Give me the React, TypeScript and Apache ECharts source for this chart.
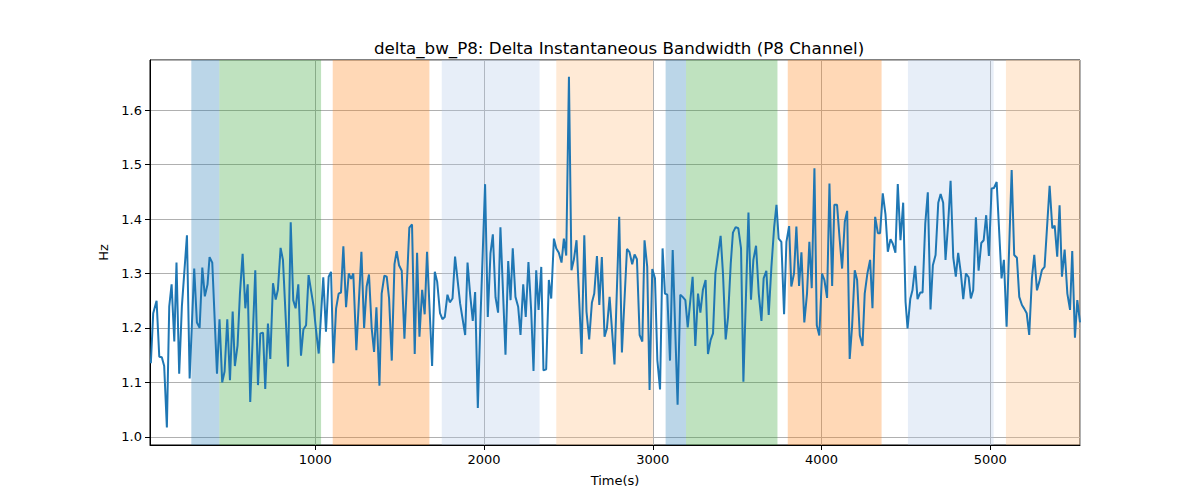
import React, { useEffect, useRef } from "react";
import * as echarts from "echarts";

const titleText = "delta_bw_P8: Delta Instantaneous Bandwidth (P8 Channel)";
const xAxisName = "Time(s)";
const yAxisName = "Hz";

const times: number[] = [
  25, 39, 59, 75, 90, 104, 120, 134, 148, 164, 177, 193, 209, 239, 255, 282, 298, 314, 330, 345,
  361, 373, 389, 417, 432, 448, 462, 478, 494, 510, 523, 539, 553, 569, 585, 599, 614, 644, 660, 674,
  690, 703, 719, 733, 749, 765, 778, 794, 808, 838, 854, 869, 883, 899, 915, 929, 945, 960, 974, 990,
  1004, 1020, 1047, 1063, 1079, 1093,
  1107, 1123, 1138, 1152, 1166, 1182, 1198, 1212, 1225, 1243, 1273, 1289, 1304, 1318, 1334, 1348, 1362, 1380, 1393, 1409,
  1423, 1437, 1453, 1469, 1482, 1496, 1512, 1528, 1557, 1573, 1589, 1603, 1617, 1633, 1648, 1662, 1692, 1708, 1722, 1739,
  1753, 1767, 1783, 1797, 1813, 1828, 1858, 1888, 1902, 1917, 1933, 1947, 1963, 1979, 2006, 2022, 2038, 2052, 2068, 2083,
  2097, 2127, 2143, 2157, 2170, 2186, 2202, 2216, 2232, 2247, 2263,
  2279, 2293, 2309, 2323, 2339, 2352, 2368, 2384, 2398, 2414, 2428, 2443, 2459, 2473, 2487, 2503, 2518, 2532, 2548, 2578,
  2594, 2607, 2623, 2639, 2653, 2669, 2683, 2698, 2714, 2728, 2744, 2773, 2801, 2817, 2847, 2862, 2878, 2892, 2906, 2922,
  2938, 2951, 2967, 2981, 2997, 3013, 3027, 3043, 3058, 3072, 3086, 3102, 3118, 3147, 3163, 3177, 3193, 3207, 3236, 3252,
  3268, 3282, 3297, 3313, 3327, 3343, 3357, 3371,
  3402, 3416, 3432, 3446, 3462, 3475, 3491, 3507, 3523, 3537, 3567, 3582, 3596, 3612, 3628, 3644, 3657, 3673, 3687, 3703,
  3719, 3733, 3746, 3762, 3778, 3792, 3808, 3821, 3837, 3851, 3867, 3881, 3898, 3914, 3928, 3942, 3958, 3972, 3987, 4003,
  4017, 4033, 4047, 4063, 4076, 4092, 4108, 4122, 4138, 4152, 4167, 4181, 4197, 4211, 4227, 4243, 4256, 4272, 4288, 4302,
  4318, 4334, 4347, 4363, 4379, 4393, 4409, 4422, 4438, 4452, 4468, 4484, 4498,
  4510, 4526, 4539, 4555, 4569, 4585, 4599, 4615, 4630, 4646, 4660, 4676, 4692, 4706, 4721, 4735, 4751, 4765, 4781, 4796,
  4810, 4826, 4840, 4856, 4872, 4885, 4899, 4915, 4931, 4947, 4961, 4976, 4992, 5008, 5022, 5038, 5051, 5067, 5081, 5097,
  5127, 5142, 5158, 5172, 5188, 5202, 5216, 5231, 5247, 5261, 5277, 5291, 5306, 5322, 5352, 5368, 5382, 5397, 5411, 5425,
  5441, 5457, 5473, 5486, 5502, 5516, 5532,
];

const values: number[] = [
  1.135, 1.227, 1.25, 1.147, 1.146, 1.13, 1.017, 1.239, 1.28, 1.175, 1.32, 1.116, 1.24, 1.37, 1.107, 1.309, 1.21, 1.2, 1.311, 1.258,
  1.28, 1.33, 1.32, 1.116, 1.216, 1.1, 1.12, 1.216, 1.104, 1.23, 1.13, 1.168, 1.263, 1.336, 1.236, 1.28, 1.064, 1.306, 1.095, 1.19,
  1.191, 1.088, 1.208, 1.143, 1.282, 1.252, 1.27, 1.347, 1.325, 1.129, 1.394, 1.251, 1.236, 1.28, 1.149, 1.197, 1.205, 1.297, 1.27, 1.239,
  1.196, 1.153, 1.293, 1.193, 1.294, 1.303,
  1.135, 1.236, 1.263, 1.265, 1.35, 1.238, 1.3, 1.29, 1.3, 1.159, 1.34, 1.2, 1.276, 1.298, 1.199, 1.156, 1.238, 1.094, 1.263, 1.296,
  1.294, 1.254, 1.14, 1.317, 1.341, 1.315, 1.305, 1.18, 1.384, 1.39, 1.152, 1.338, 1.184, 1.27, 1.225, 1.34, 1.13, 1.303, 1.285, 1.227,
  1.216, 1.22, 1.261, 1.247, 1.254, 1.331, 1.245, 1.187, 1.32, 1.263, 1.213, 1.266, 1.053, 1.22, 1.464, 1.22, 1.337, 1.372, 1.256, 1.228,
  1.385, 1.151, 1.323, 1.251, 1.346, 1.257, 1.239, 1.187, 1.28, 1.22, 1.321,
  1.233, 1.121, 1.306, 1.233, 1.312, 1.122, 1.124, 1.288, 1.254, 1.364, 1.346, 1.338, 1.32, 1.364, 1.333, 1.661, 1.306, 1.325, 1.361, 1.152,
  1.37, 1.23, 1.179, 1.246, 1.263, 1.332, 1.242, 1.33, 1.184, 1.199, 1.257, 1.133, 1.404, 1.155, 1.345, 1.339, 1.317, 1.335, 1.326, 1.187,
  1.175, 1.361, 1.312, 1.086, 1.308, 1.291, 1.141, 1.087, 1.346, 1.263, 1.261, 1.14, 1.343, 1.059, 1.261, 1.257, 1.251, 1.201, 1.294, 1.167,
  1.263, 1.228, 1.27, 1.288, 1.152, 1.178, 1.19, 1.3,
  1.369, 1.3, 1.179, 1.22, 1.318, 1.375, 1.385, 1.383, 1.346, 1.101, 1.412, 1.252, 1.325, 1.351, 1.263, 1.213, 1.291, 1.305, 1.224, 1.312,
  1.384, 1.426, 1.364, 1.358, 1.225, 1.358, 1.387, 1.276, 1.3, 1.386, 1.277, 1.339, 1.21, 1.263, 1.358, 1.273, 1.493, 1.205, 1.186, 1.3,
  1.288, 1.255, 1.465, 1.277, 1.426, 1.426, 1.361, 1.309, 1.395, 1.415, 1.143, 1.202, 1.306, 1.288, 1.186, 1.167, 1.263, 1.3, 1.325, 1.236,
  1.404, 1.374, 1.374, 1.447, 1.409, 1.34, 1.363, 1.355, 1.338, 1.464, 1.361, 1.43, 1.248,
  1.199, 1.253, 1.269, 1.314, 1.253, 1.265, 1.265, 1.392, 1.449, 1.234, 1.315, 1.334, 1.43, 1.446, 1.43, 1.325, 1.394, 1.47, 1.329, 1.294,
  1.338, 1.3, 1.253, 1.3, 1.293, 1.254, 1.269, 1.403, 1.305, 1.356, 1.361, 1.407, 1.332, 1.456, 1.457, 1.468, 1.389, 1.291, 1.325, 1.202,
  1.49, 1.334, 1.329, 1.257, 1.242, 1.235, 1.227, 1.187, 1.291, 1.334, 1.269, 1.285, 1.306, 1.312, 1.461, 1.383, 1.388, 1.331, 1.425, 1.294,
  1.344, 1.263, 1.233, 1.341, 1.182, 1.251, 1.21,
];

const spanStarts: number[] = [265, 431, 1103, 1749, 2428, 3076, 3197, 3800, 4512, 5093];
const spanEnds: number[] = [431, 1034, 1676, 2329, 3001, 3197, 3739, 4356, 5020, 5532];
const spanColors: string[] = [
  "rgba(31,119,180,0.3)",
  "rgba(44,160,44,0.3)",
  "rgba(255,127,14,0.3)",
  "rgba(174,199,232,0.3)",
  "rgba(255,187,120,0.3)",
  "rgba(31,119,180,0.3)",
  "rgba(44,160,44,0.3)",
  "rgba(255,127,14,0.3)",
  "rgba(174,199,232,0.3)",
  "rgba(255,187,120,0.3)",
];

const xMin = 20;
const xMax = 5532;
const yMin = 0.985;
const yMax = 1.692;

const FONT = "DejaVu Sans";

export default function App() {
  const ref = useRef<HTMLDivElement>(null);

  useEffect(() => {
    if (!ref.current) return;
    const chart = echarts.init(ref.current, undefined, { renderer: "svg" });
    const lineData = times.map((t, i) => [t, values[i]]);
    const areas = spanStarts.map((s, i) => [
      { xAxis: s, itemStyle: { color: spanColors[i] } },
      { xAxis: spanEnds[i] },
    ]);
    chart.setOption({
      animation: false,
      backgroundColor: "#ffffff",
      title: {
        text: titleText,
        left: 369,
        top: 34,
        textStyle: { fontFamily: FONT, fontSize: 16.7, fontWeight: "normal", color: "#000" },
      },
      grid: {
        left: 150,
        right: 120,
        top: 60,
        bottom: 55,
        show: true,
        borderColor: "#000",
        borderWidth: 1,
        backgroundColor: "transparent",
      },
      xAxis: {
        type: "value",
        min: xMin,
        max: xMax,
        minInterval: 1000,
        maxInterval: 1000,
        name: xAxisName,
        nameLocation: "middle",
        nameGap: 29,
        nameTextStyle: { fontFamily: FONT, fontSize: 13, color: "#000" },
        axisLine: { show: true, onZero: false, lineStyle: { color: "#000", width: 1 } },
        axisTick: { show: true, length: 5, lineStyle: { color: "#000" } },
        axisLabel: {
          showMinLabel: false,
          showMaxLabel: false,
          margin: 8,
          fontFamily: FONT,
          fontSize: 13,
          color: "#000",
          formatter: (v: number) => String(Math.round(v)),
        },
        splitLine: { show: true, lineStyle: { color: "#b0b0b0", width: 1 } },
      },
      yAxis: {
        type: "value",
        min: yMin,
        max: yMax,
        minInterval: 0.1,
        maxInterval: 0.1,
        name: yAxisName,
        nameLocation: "middle",
        nameGap: 40,
        nameRotate: 90,
        nameTextStyle: { fontFamily: FONT, fontSize: 13, color: "#000" },
        axisLine: { show: true, onZero: false, lineStyle: { color: "#000", width: 1 } },
        axisTick: { show: true, length: 5, lineStyle: { color: "#000" } },
        axisLabel: {
          showMinLabel: false,
          showMaxLabel: false,
          margin: 8,
          fontFamily: FONT,
          fontSize: 13,
          color: "#000",
          formatter: (v: number) => v.toFixed(1),
        },
        splitLine: { show: true, lineStyle: { color: "#b0b0b0", width: 1 } },
      },
      series: [
        {
          type: "line",
          data: lineData,
          showSymbol: false,
          symbol: "none",
          lineStyle: { color: "#1f77b4", width: 2 },
          z: 3,
          markArea: {
            silent: true,
            data: areas,
          },
        },
      ],
    });
    return () => chart.dispose();
  }, []);

  return (
    <div
      ref={ref}
      style={{ position: "absolute", left: 0, top: 0, width: 1200, height: 500, background: "#fff" }}
    />
  );
}
